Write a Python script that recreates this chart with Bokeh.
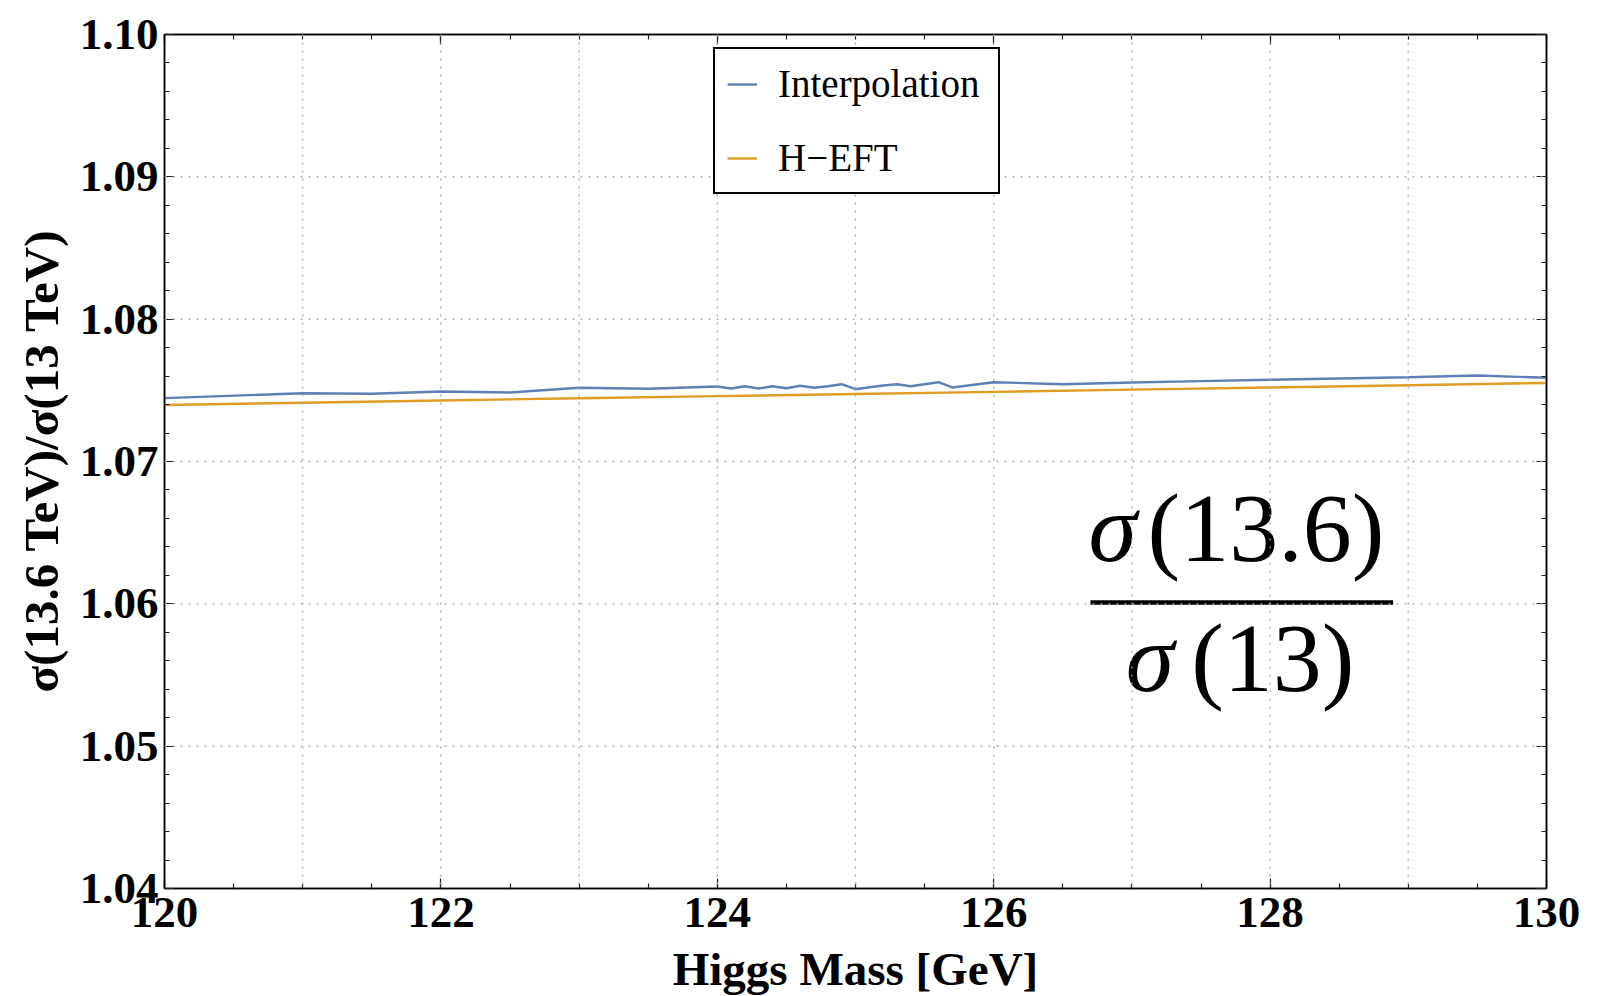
from bokeh.plotting import figure
from bokeh.models import (Range1d, LinearAxis, FixedTicker, Legend, LegendItem,
                          Span)
from bokeh.core.properties import value
from bokeh.embed import file_html
from bokeh.resources import INLINE

# ---- data ----
mass_interp = [120, 121, 121.5, 122, 122.5, 123, 123.5, 124, 124.1, 124.2, 124.3,
               124.4, 124.5, 124.6, 124.7, 124.8, 124.9, 125.0, 125.1, 125.2,
               125.3, 125.4, 125.5, 125.6, 125.7, 126, 126.5, 127, 127.5, 128,
               128.5, 129, 129.5, 130]
ratio_interp = [1.07445, 1.07480, 1.07476, 1.07492, 1.07485, 1.07518, 1.07511,
                1.07527, 1.07513, 1.07529, 1.07513, 1.07529, 1.07515, 1.07532,
                1.07518, 1.07529, 1.07543, 1.07508, 1.07522, 1.07534, 1.07543,
                1.07529, 1.07543, 1.07557, 1.07520, 1.07557, 1.07543, 1.07555,
                1.07565, 1.07574, 1.07583, 1.07592, 1.07604, 1.07588]
mass_heft = [120, 121, 122, 123, 124, 125, 126, 127, 128, 129, 130]
ratio_heft = [1.07397, 1.07413, 1.07429, 1.07444, 1.07459, 1.07474, 1.07489,
              1.07505, 1.07520, 1.07536, 1.07552]

x_major = [120, 122, 124, 126, 128, 130]
x_minor = [120 + 0.5 * i for i in range(21)]
x_grid = [120 + i for i in range(11)]
y_major = [1.04, 1.05, 1.06, 1.07, 1.08, 1.09, 1.10]
y_minor = [round(1.04 + 0.002 * i, 3) for i in range(31)]
y_labels = {v: f"{v:.2f}" for v in y_major}

BLUE = "#5E81B5"
ORANGE = "#E19C24"
SERIF = "Liberation Serif"

p = figure(frame_width=1382, frame_height=854, output_backend="svg",
           toolbar_location=None, x_range=Range1d(120, 130),
           y_range=Range1d(1.04, 1.10),
           min_border_left=164, min_border_top=34, min_border_right=50,
           min_border_bottom=106, x_axis_type=None, y_axis_type=None)
p.outline_line_color = "black"
p.outline_line_width = 1.5
p.background_fill_color = "white"
p.border_fill_color = "white"


def style_axis(ax, ticks, minor, show_labels):
    ax.ticker = FixedTicker(ticks=ticks, minor_ticks=minor)
    ax.major_tick_in = 10
    ax.major_tick_out = 0
    ax.minor_tick_in = 5
    ax.minor_tick_out = 0
    ax.major_tick_line_color = "#222222"
    ax.minor_tick_line_color = "#222222"
    ax.major_tick_line_width = 1.2
    ax.minor_tick_line_width = 1.2
    ax.axis_line_color = "black"
    ax.axis_line_width = 1.5
    ax.major_label_text_font = SERIF
    ax.major_label_text_font_style = "bold"
    ax.major_label_text_font_size = "45px"
    ax.major_label_text_color = "black"
    if not show_labels:
        ax.major_label_text_alpha = 0
        ax.major_label_text_font_size = "1px"


xb = LinearAxis()
style_axis(xb, x_major, x_minor, True)
xb.major_label_standoff = 9
xb.axis_label = "Higgs Mass [GeV]"
xb.axis_label_text_font = SERIF
xb.axis_label_text_font_style = "bold"
xb.axis_label_text_font_size = "47px"
xb.axis_label_text_color = "black"
xb.axis_label_standoff = 13
p.add_layout(xb, "below")

yl = LinearAxis()
style_axis(yl, y_major, y_minor, True)
yl.major_label_overrides = y_labels
yl.major_label_standoff = 6
yl.axis_label = "σ(13.6 TeV)/σ(13 TeV)"
yl.axis_label_text_font = SERIF
yl.axis_label_text_font_style = "bold"
yl.axis_label_text_font_size = "49px"
yl.axis_label_text_color = "black"
yl.axis_label_standoff = 8
p.add_layout(yl, "left")

xt = LinearAxis()
style_axis(xt, x_major, x_minor, False)
xt.major_label_standoff = 0
p.add_layout(xt, "above")

yr = LinearAxis()
style_axis(yr, y_major, y_minor, False)
yr.major_label_standoff = 0
p.add_layout(yr, "right")

# dotted grid
for gx in x_grid[1:-1]:
    p.add_layout(Span(location=gx, dimension="height", line_color="#a8a8a8",
                      line_width=1.3, line_dash="2 6"))
for gy in y_major[1:-1]:
    p.add_layout(Span(location=gy, dimension="width", line_color="#a8a8a8",
                      line_width=1.3, line_dash="2 6"))

r_int = p.line(mass_interp, ratio_interp, line_color=BLUE, line_width=2.4)
r_heft = p.line(mass_heft, ratio_heft, line_color=ORANGE, line_width=2.4)

legend = Legend(items=[LegendItem(label="Interpolation", renderers=[r_int]),
                       LegendItem(label="H\u2212EFT", renderers=[r_heft])],
                location=(549, 694), margin=0, padding=12, spacing=29,
                glyph_width=30, glyph_height=40, label_height=40,
                label_width=208,
                label_standoff=21, label_text_font=SERIF,
                label_text_font_size="39px", label_text_color="black",
                border_line_color="black", border_line_width=2,
                border_line_alpha=1.0,
                background_fill_color="white", background_fill_alpha=1.0)
p.add_layout(legend, "center")

# big fraction annotation
FS = "98px"
p.text(x=[126.86], y=[1.0653], text=["σ"], text_font=value(SERIF),
       text_font_style="italic", text_font_size=FS, text_align="center",
       text_baseline="alphabetic", text_color="black")
p.text(x=[127.97], y=[1.0653], text=["(13.6)"], text_font=value(SERIF),
       text_font_size=FS, text_align="center", text_baseline="alphabetic",
       text_color="black")
p.segment(x0=[126.70], y0=[1.06010], x1=[128.89], y1=[1.06010],
          line_color="black", line_width=4.5)
p.text(x=[127.13], y=[1.0562], text=["σ"], text_font=value(SERIF),
       text_font_style="italic", text_font_size=FS, text_align="center",
       text_baseline="alphabetic", text_color="black")
p.text(x=[128.02], y=[1.0562], text=["(13)"], text_font=value(SERIF),
       text_font_size=FS, text_align="center", text_baseline="alphabetic",
       text_color="black")

open("out.html", "w").write(file_html(p, INLINE))
